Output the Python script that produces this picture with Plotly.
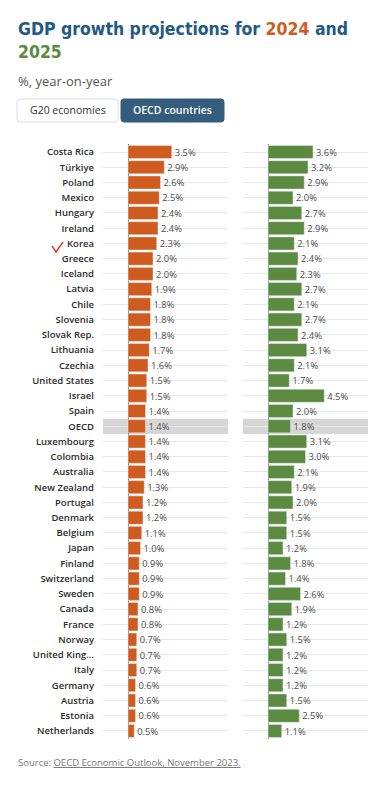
import plotly.graph_objects as go

countries = ["Costa Rica", "Türkiye", "Poland", "Mexico", "Hungary", "Ireland", "Korea",
             "Greece", "Iceland", "Latvia", "Chile", "Slovenia", "Slovak Rep.", "Lithuania",
             "Czechia", "United States", "Israel", "Spain", "OECD", "Luxembourg", "Colombia",
             "Australia", "New Zealand", "Portugal", "Denmark", "Belgium", "Japan", "Finland",
             "Switzerland", "Sweden", "Canada", "France", "Norway", "United King...", "Italy",
             "Germany", "Austria", "Estonia", "Netherlands"]
growth_2024 = [3.5, 2.9, 2.6, 2.5, 2.4, 2.4, 2.3, 2.0, 2.0, 1.9, 1.8, 1.8, 1.8, 1.7, 1.6,
               1.5, 1.5, 1.4, 1.4, 1.4, 1.4, 1.4, 1.3, 1.2, 1.2, 1.1, 1.0, 0.9, 0.9, 0.9,
               0.8, 0.8, 0.7, 0.7, 0.7, 0.6, 0.6, 0.6, 0.5]
growth_2025 = [3.6, 3.2, 2.9, 2.0, 2.7, 2.9, 2.1, 2.4, 2.3, 2.7, 2.1, 2.7, 2.4, 3.1, 2.1,
               1.7, 4.5, 2.0, 1.8, 3.1, 3.0, 2.1, 1.9, 2.0, 1.5, 1.5, 1.2, 1.8, 1.4, 2.6,
               1.9, 1.2, 1.5, 1.2, 1.2, 1.2, 1.5, 2.5, 1.1]
highlight = "OECD"
marked = "Korea"

W, H = 384, 786
ORANGE = "#cf5b1f"
GREEN = "#5c8a41"
BLUE = "#235a85"


def px(x):
    return x / W


def py(y):
    return 1 - y / H


fig = go.Figure()
labels24 = [f"{v:.1f}%" for v in growth_2024]
labels25 = [f"{v:.1f}%" for v in growth_2025]

fig.add_trace(go.Bar(x=growth_2024, y=countries, orientation="h", marker_color=ORANGE,
                     text=labels24, textposition="outside", cliponaxis=False,
                     textfont=dict(family="Open Sans", size=10, color="#4d4d4d"),
                     xaxis="x", yaxis="y", hoverinfo="skip"))
fig.add_trace(go.Bar(x=growth_2025, y=countries, orientation="h", marker_color=GREEN,
                     text=labels25, textposition="outside", cliponaxis=False,
                     textfont=dict(family="Open Sans", size=10, color="#4d4d4d"),
                     xaxis="x2", yaxis="y2", hoverinfo="skip"))

ydom = [py(738.6), py(144.4)]
common_x = dict(range=[-2, 8], showgrid=False, showticklabels=False, ticks="",
                zeroline=True, zerolinecolor="#8a8a8a", zerolinewidth=1, fixedrange=True)
common_y = dict(autorange="reversed", showgrid=True, gridcolor="#e6e6e6", gridwidth=1,
                ticks="", zeroline=False, fixedrange=True, type="category")

fig.update_layout(
    width=W, height=H, margin=dict(l=0, r=0, t=0, b=0),
    paper_bgcolor="white", plot_bgcolor="white", showlegend=False,
    bargap=0.14,
    xaxis=dict(domain=[px(103), px(228)], anchor="y", **common_x),
    xaxis2=dict(domain=[px(243), px(368)], anchor="y2", **common_x),
    yaxis=dict(domain=ydom, anchor="x", showticklabels=True, ticklabelstandoff=8,
               tickfont=dict(family="Open Sans", size=9.5, color="#2b2b2b", weight=600),
               **common_y),
    yaxis2=dict(domain=ydom, anchor="x2", showticklabels=False, matches="y", **common_y),
)

# highlighted OECD row
for xr, yr in [("x domain", "y"), ("x2 domain", "y2")]:
    fig.add_shape(type="rect", xref=xr, yref=yr, x0=0, x1=1,
                  y0=countries.index(highlight) - 0.5, y1=countries.index(highlight) + 0.5,
                  fillcolor="#d6d6d6", line_width=0, layer="below")

# check mark next to Korea
ky = 245
fig.add_shape(type="path", xref="paper", yref="paper",
              path=f"M {px(52)},{py(ky+1)} L {px(56)},{py(ky+7)} L {px(63)},{py(ky-3)}",
              line=dict(color="#d0392b", width=1.4))


def rrect(x0, y0, x1, y1, r=3):
    return (f"M {px(x0+r)},{py(y0)} L {px(x1-r)},{py(y0)} Q {px(x1)},{py(y0)} {px(x1)},{py(y0+r)} "
            f"L {px(x1)},{py(y1-r)} Q {px(x1)},{py(y1)} {px(x1-r)},{py(y1)} "
            f"L {px(x0+r)},{py(y1)} Q {px(x0)},{py(y1)} {px(x0)},{py(y1-r)} "
            f"L {px(x0)},{py(y0+r)} Q {px(x0)},{py(y0)} {px(x0+r)},{py(y0)} Z")


fig.add_shape(type="path", xref="paper", yref="paper", path=rrect(17, 99, 118, 122),
              fillcolor="white", line=dict(color="#dddddd", width=1))
fig.add_shape(type="path", xref="paper", yref="paper", path=rrect(121, 99, 224, 122),
              fillcolor="#335c7d", line=dict(color="#335c7d", width=1))

fig.add_annotation(x=px(67.5), y=py(110.5), xref="paper", yref="paper", showarrow=False,
                   text="G20 economies", xanchor="center", yanchor="middle",
                   font=dict(family="Open Sans", size=10.5, color="#333333"))
fig.add_annotation(x=px(172.5), y=py(110.5), xref="paper", yref="paper", showarrow=False,
                   text="OECD countries", xanchor="center", yanchor="middle",
                   font=dict(family="Open Sans", size=10.5, color="white", weight=600))

# title
fig.add_annotation(x=px(16), y=py(17), xref="paper", yref="paper", showarrow=False,
                   xanchor="left", yanchor="top", align="left",
                   text=(f"GDP growth projections for <span style='color:{ORANGE}'>2024</span> and"
                         f"<br><span style='color:{GREEN}'>2025</span>"),
                   font=dict(family="DejaVu Sans Condensed, DejaVu Sans", size=17.5, color=BLUE,
                             weight="bold"))
fig.add_annotation(x=px(16), y=py(70), xref="paper", yref="paper", showarrow=False,
                   xanchor="left", yanchor="top", text="%, year-on-year",
                   font=dict(family="Open Sans", size=13, color="#555555"))
fig.add_annotation(x=px(16), y=py(762), xref="paper", yref="paper", showarrow=False,
                   xanchor="left", yanchor="middle",
                   text="Source: <u>OECD Economic Outlook, November 2023.</u>",
                   font=dict(family="Open Sans", size=9.5, color="#777777"))

fig.write_html("out.html", config={"displayModeBar": False},
               post_script="document.body.style.margin='0';document.body.style.overflow='hidden';")
